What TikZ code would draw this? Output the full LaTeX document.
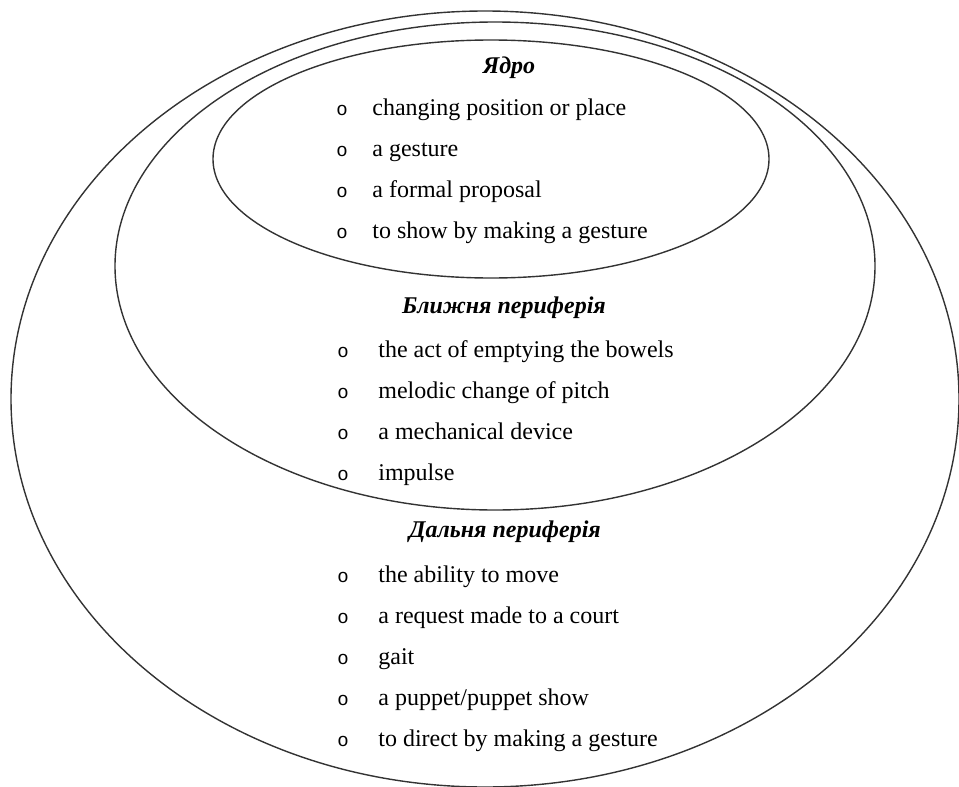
\documentclass[tikz,border=0pt]{standalone}
\usepackage{fontspec}
\setmainfont{Liberation Serif}
\newfontfamily\bulletfont{Liberation Mono}
\usetikzlibrary{positioning}
\tikzset{zone/.style={draw=black!80,line width=.7pt},
  heading/.style={font=\fontsize{12}{14}\selectfont\bfseries\itshape,anchor=base,inner sep=0pt},
  item/.style={font=\fontsize{12}{14}\selectfont,anchor=base west,inner sep=0pt},
  itemdot/.style={font=\fontsize{9.5}{14}\bulletfont,anchor=base,inner sep=0pt}}

\begin{document}
\begin{tikzpicture}[x=.5pt,y=-.5pt]
\useasboundingbox (0,0) rectangle (959,787);
% three nested zones
\draw[zone] (485,399) ellipse[x radius=474,y radius=388];
\draw[zone] (495,266) ellipse[x radius=380,y radius=244];
\draw[zone] (491,159) ellipse[x radius=278,y radius=119];
% core
\node[heading] (core) at (509,73) {Ядро};
\foreach \txt [count=\i] in {changing position or place,a gesture,a formal proposal,to show by making a gesture}{
  \node[itemdot] (core-dot-\i) at (342,{115+41*(\i-1)}) {o};
  \node[item] (core-\i) at (372,{115+41*(\i-1)}) {\txt};
}
% near periphery
\node[heading] (near) at (504,313) {Ближня периферія};
\foreach \txt [count=\i] in {the act of emptying the bowels,melodic change of pitch,a mechanical device,impulse}{
  \node[itemdot] (near-dot-\i) at (343,{357+41*(\i-1)}) {o};
  \node[item] (near-\i) at (378,{357+41*(\i-1)}) {\txt};
}
% far periphery
\node[heading] (far) at (505,537) {Дальня периферія};
\foreach \txt [count=\i] in {the ability to move,a request made to a court,gait,a puppet/puppet show,to direct by making a gesture}{
  \node[itemdot] (far-dot-\i) at (343,{582+41*(\i-1)}) {o};
  \node[item] (far-\i) at (378,{582+41*(\i-1)}) {\txt};
}
\end{tikzpicture}
\end{document}
